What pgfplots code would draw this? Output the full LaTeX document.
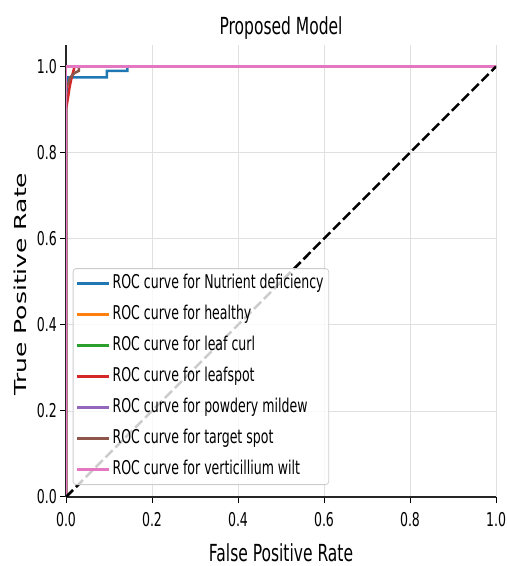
\documentclass[border=0pt]{standalone}
\usepackage{fontspec}
\setmainfont{DejaVu Sans}[FakeStretch=0.66]
\newfontfamily\ylfont{DejaVu Sans}
\usepackage{pgfplots}
\pgfplotsset{compat=1.18}
\definecolor{c0}{HTML}{1F77B4}
\definecolor{c1}{HTML}{FF7F0E}
\definecolor{c2}{HTML}{2CA02C}
\definecolor{c3}{HTML}{D62728}
\definecolor{c4}{HTML}{9467BD}
\definecolor{c5}{HTML}{8C564B}
\definecolor{c6}{HTML}{E377C2}
\begin{document}
\begin{tikzpicture}
\begin{axis}[
  scale only axis, width=430pt, height=452pt,
  xmin=0, xmax=1, ymin=0, ymax=1.05,
  axis x line=bottom, axis y line=left,
  axis line style={-, line width=1.6pt, black!85},
  tick align=outside, major tick length=6pt,
  tick style={line width=1pt, black},
  xtick={0,0.2,0.4,0.6,0.8,1}, ytick={0,0.2,0.4,0.6,0.8,1},
  grid=major, grid style={line width=0.8pt, black!12},
  /pgf/number format/assume math mode=true,
  /pgf/number format/.cd, fixed, fixed zerofill, precision=1, /pgfplots/.cd,
  ticklabel style={font=\fontsize{19}{22}\selectfont},
  xticklabel style={inner sep=0pt, yshift=-9pt},
  yticklabel style={inner sep=0pt, xshift=-3pt},
  title={Proposed Model},
  title style={font=\fontsize{23.5}{26}\selectfont, at={(axis description cs:0.5,1)}, anchor=base, inner sep=0pt, yshift=4pt},
  xlabel={False Positive Rate},
  xlabel style={font=\fontsize{23.5}{26}\selectfont, at={(axis description cs:0.5,0)}, anchor=base, inner sep=0pt, yshift=-64pt},
  ylabel={\scalebox{1}[0.66]{\ylfont\fontsize{25}{28}\selectfont True Positive Rate}},
  ylabel style={at={(axis description cs:-0.0907,0.471)}, anchor=base, inner sep=0pt},
  legend image code/.code={\draw[#1, line width=2.5pt] (0pt,0pt) -- (28pt,0pt); \path (0pt,0pt) -- (32pt,0pt);},
  legend cell align=left,
  legend style={at={(axis description cs:0.0156,0.0265)}, anchor=south west,
    font=\fontsize{19}{22}\selectfont,
    draw=black!20, line width=0.8pt, rounded corners=3pt,
    fill=white, fill opacity=0.8, text opacity=1,
    inner xsep=3pt, inner ysep=4pt, row sep=9pt,
    nodes={inner sep=2pt, text height=14pt, text depth=4pt}},
  every axis plot/.append style={line width=2.5pt},
]
\addplot[c0] coordinates {(0,0) (0,0.93) (0.005,0.975) (0.095,0.975) (0.095,0.99) (0.143,0.99) (0.143,1) (1,1)};
\addlegendentry{ROC curve for Nutrient deficiency\hspace{8pt}}
\addplot[c1] coordinates {(0,0) (0,1) (1,1)};
\addlegendentry{ROC curve for healthy}
\addplot[c2] coordinates {(0,0) (0,1) (1,1)};
\addlegendentry{ROC curve for leaf curl}
\addplot[c3] coordinates {(0,0) (0,0.9) (0.005,0.93) (0.008,0.95) (0.012,0.97) (0.016,0.985) (0.02,1) (1,1)};
\addlegendentry{ROC curve for leafspot}
\addplot[c4] coordinates {(0,0) (0,1) (1,1)};
\addlegendentry{ROC curve for powdery mildew}
\addplot[c5] coordinates {(0,0) (0,0.95) (0.005,0.96) (0.01,0.975) (0.02,0.985) (0.03,0.99) (0.03,1) (1,1)};
\addlegendentry{ROC curve for target spot}
\addplot[c6] coordinates {(0,0) (0,1) (1,1)};
\addlegendentry{ROC curve for verticillium wilt}
\addplot[black, dash pattern=on 10pt off 4pt, line width=2.5pt, forget plot] coordinates {(0,0) (1,1)};
\end{axis}
\path (current axis.south west) ++(-66pt,-69pt) coordinate (bbA);
\path (current axis.north east) ++(11pt,45pt) coordinate (bbB);
\pgfresetboundingbox
\path[use as bounding box] (bbA) rectangle (bbB);
\end{tikzpicture}
\end{document}
